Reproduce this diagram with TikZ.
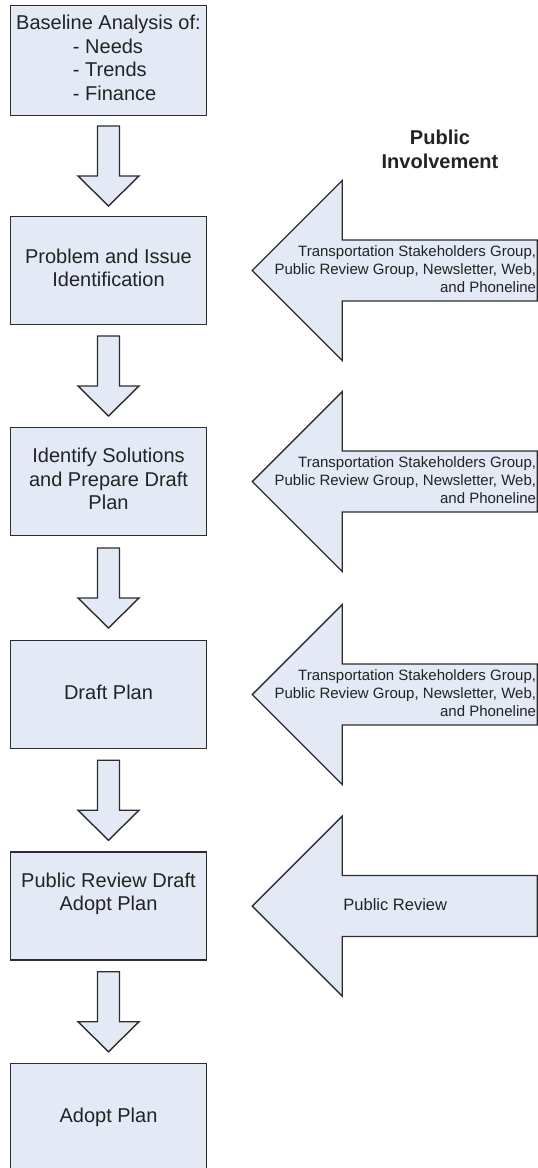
\documentclass[tikz,border=0pt]{standalone}
\usepackage{fontspec}
\setmainfont{Liberation Sans}
\usetikzlibrary{calc}

\definecolor{boxfill}{RGB}{227,233,245}
\definecolor{edge}{RGB}{45,45,45}
\definecolor{ink}{RGB}{35,35,35}

\tikzset{
  stepbox/.style={draw=edge, line width=1.5pt, fill=boxfill,
    minimum width=196pt, minimum height=108pt, inner sep=0pt,
    align=center, text=ink, font=\fontsize{20pt}{23.5pt}\selectfont},
  blockarrow/.style={draw=edge, line width=1.4pt, fill=boxfill, line join=miter},
  arrowtext/.style={text=ink, font=\fontsize{15pt}{18pt}\selectfont,
    align=right, inner sep=0pt, anchor=east},
  headlabel/.style={text=ink, align=center, inner sep=0pt,
    font=\bfseries\fontsize{20pt}{24.5pt}\selectfont}
}

% hollow block arrow pointing down, centred in the gap between two boxes
\newcommand\flowarrow[2]{%
  \coordinate (mid-#1) at ($(#1.south)!0.5!(#2.north)$);
  \draw[blockarrow, shift={(mid-#1)}]
    (-11,40) -- (11,40) -- (11,-10) -- (30.5,-10) -- (0,-40)
    -- (-30.5,-10) -- (-11,-10) -- cycle;
}

% wide block arrow pointing left at a box; #2 names its tip
\newcommand\inputarrow[2]{%
  \coordinate (#2) at ($(#1.east)+(45,0)$);
  \draw[blockarrow, shift={(#2)}]
    (0,0) -- (90,90) -- (90,30.5) -- (285,30.5) -- (285,-30.5)
    -- (90,-30.5) -- (90,-90) -- cycle;
}

\begin{document}
\begin{tikzpicture}[x=1pt, y=1pt]
  \clip (0,0) rectangle (538,-1168);
  \fill[white] (0,0) rectangle (538,-1168);

  % process steps
  \node[stepbox, minimum height=110pt] (b1) at (108.5,-60.5)
    {\strut Baseline Analysis of:\\
     \makebox[71pt][l]{\strut - Needs}\\
     \makebox[71pt][l]{\strut - Trends}\\
     \makebox[71pt][l]{\strut - Finance}};
  \node[stepbox] (b2) at (108.5,-270.5)
    {\strut Problem and Issue\\\strut Identification};
  \node[stepbox] (b3) at (108.5,-481.5)
    {\strut Identify Solutions\\\strut and Prepare Draft\\\strut Plan};
  \node[stepbox] (b4) at (108.5,-694.5) {\strut Draft Plan};
  \node[stepbox] (b5) at (108.5,-906)
    {\strut Public Review Draft\\\strut Adopt Plan\\\strut};
  \node[stepbox] (b6) at (108.5,-1117.5) {\strut Adopt Plan};

  % flow between the steps
  \flowarrow{b1}{b2}
  \flowarrow{b2}{b3}
  \flowarrow{b3}{b4}
  \flowarrow{b4}{b5}
  \flowarrow{b5}{b6}

  % public involvement column
  \node[headlabel] (pi) at (440,-149.5) {Public\\Involvement};

  \inputarrow{b2}{t2}
  \inputarrow{b3}{t3}
  \inputarrow{b4}{t4}
  \inputarrow{b5}{t5}

  \node[arrowtext] (in2) at ($(t2)+(284,0)$)
    {\strut Transportation Stakeholders Group,\\
     \strut Public Review Group, Newsletter, Web,\\
     \strut and Phoneline};
  \node[arrowtext] (in3) at ($(t3)+(284,0)$)
    {\strut Transportation Stakeholders Group,\\
     \strut Public Review Group, Newsletter, Web,\\
     \strut and Phoneline};
  \node[arrowtext] (in4) at ($(t4)+(284,0)$)
    {\strut Transportation Stakeholders Group,\\
     \strut Public Review Group, Newsletter, Web,\\
     \strut and Phoneline};
  \node[text=ink, inner sep=0pt, anchor=west,
        font=\fontsize{16.5pt}{20pt}\selectfont] (in5) at ($(t5)+(91,0)$)
    {\strut Public Review};
\end{tikzpicture}
\end{document}
